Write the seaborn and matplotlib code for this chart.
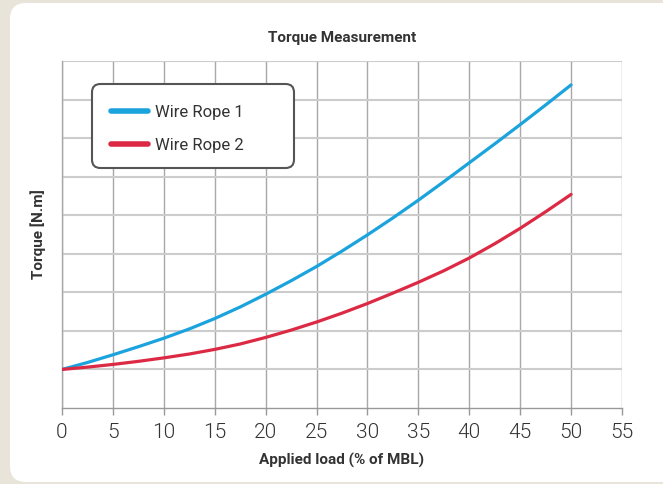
import numpy as np
import pandas as pd
import matplotlib
matplotlib.use("Agg")
import matplotlib.pyplot as plt
from matplotlib.patches import FancyBboxPatch
import seaborn as sns

# Values (y in grid units, axis has no tick labels)
load_pct = [0, 2.5, 5, 7.5, 10, 12.5, 15, 17.5, 20, 22.5, 25,
            27.5, 30, 32.5, 35, 37.5, 40, 42.5, 45, 47.5, 50]
rope1_torque = [1.0, 1.18, 1.38, 1.59, 1.81, 2.05, 2.32, 2.62, 2.95, 3.30, 3.67,
                4.07, 4.49, 4.93, 5.39, 5.87, 6.36, 6.85, 7.35, 7.86, 8.38]
rope2_torque = [1.0, 1.06, 1.13, 1.21, 1.30, 1.40, 1.52, 1.66, 1.83, 2.02, 2.23,
                2.46, 2.71, 2.98, 3.26, 3.56, 3.89, 4.26, 4.66, 5.09, 5.54]
series_names = ["Wire Rope 1", "Wire Rope 2"]
x_ticks = list(range(0, 60, 5))

df = pd.DataFrame({
    "load": load_pct * 2,
    "torque": rope1_torque + rope2_torque,
    "series": [series_names[0]] * len(load_pct) + [series_names[1]] * len(load_pct),
})

sns.set_theme(style="whitegrid")
plt.rcParams["font.family"] = ["Roboto", "DejaVu Sans"]
text_color = "#333333"

fig = plt.figure(figsize=(6.63, 4.84), dpi=100)
fig.patch.set_facecolor("#e8e4da")

# white rounded panel behind the axes
panel = FancyBboxPatch((10 / 663, 2 / 484), 700 / 663, 479 / 484,
                       boxstyle="round,pad=0,rounding_size=0.024",
                       transform=fig.transFigure, facecolor="white",
                       edgecolor="none", zorder=-5, mutation_aspect=663 / 484)
fig.patches.append(panel)

ax = fig.add_axes([62 / 663, (484 - 408) / 484, 560 / 663, 347 / 484])
ax.set_facecolor("white")

palette = {"Wire Rope 1": "#1aa3dc", "Wire Rope 2": "#dc2a44"}
sns.lineplot(data=df, x="load", y="torque", hue="series", palette=palette,
             linewidth=2.3, ax=ax, legend=False, zorder=3)

ax.set_xlim(0, 55)
ax.set_ylim(0, 9)
ax.set_xticks(x_ticks)
ax.set_yticks(range(1, 10))
ax.set_yticklabels([])
ax.tick_params(axis="y", length=0)
ax.tick_params(axis="x", length=5, width=1, color="#999999", direction="out",
               labelsize=15, labelcolor=text_color, pad=6, bottom=True)
for lbl in ax.get_xticklabels():
    lbl.set_fontweight(300)

ax.grid(True, axis="x", color="#a8a8a8", linewidth=1.0)
ax.grid(True, axis="y", color="#cccccc", linewidth=1.5)
for side in ["top", "right"]:
    ax.spines[side].set_visible(False)
ax.spines["left"].set_color("#a8a8a8")
ax.spines["left"].set_linewidth(1.0)
ax.spines["bottom"].set_color("#999999")
ax.spines["bottom"].set_linewidth(1.0)

ax.set_xlabel("Applied load (% of MBL)", fontsize=11, fontweight="bold",
              color=text_color, labelpad=8)
ax.set_ylabel("Torque [N.m]", fontsize=11, fontweight="bold",
              color=text_color, labelpad=8)
ax.set_title("Torque Measurement", fontsize=11, fontweight="bold",
             color=text_color, pad=14)

# legend frame drawn separately so it can be wider than its contents
frame = FancyBboxPatch((30 / 560, 240 / 347), 202 / 560, 84 / 347,
                       boxstyle="round,pad=0,rounding_size=0.015",
                       transform=ax.transAxes, facecolor="white",
                       edgecolor="#555555", linewidth=1.5, zorder=4,
                       mutation_aspect=560 / 347)
ax.add_patch(frame)

handles = [plt.Line2D([], [], color=palette[n], linewidth=4, solid_capstyle="round")
           for n in series_names]
leg = ax.legend(handles, series_names, loc="upper left",
                bbox_to_anchor=(49 / 560, 303 / 347), fontsize=12, frameon=False,
                handlelength=2.2, handletextpad=0.45, borderpad=0,
                labelspacing=1.08, borderaxespad=0)
leg.set_zorder(5)
for t in leg.get_texts():
    t.set_color(text_color)

fig.savefig("out.png", dpi=100, facecolor=fig.get_facecolor())
